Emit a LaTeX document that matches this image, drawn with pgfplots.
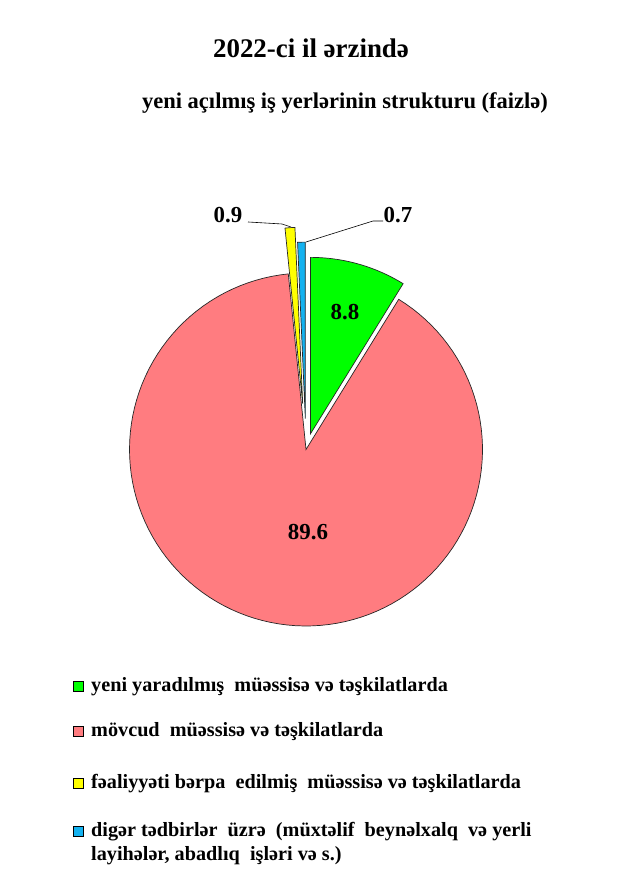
\documentclass[border=0pt]{standalone}
\usepackage{fontspec}
\setmainfont{Liberation Serif}
\usepackage{pgfplots}
\usepackage{pgfplotstable}
\pgfplotsset{compat=1.18}
\definecolor{pieGreen}{RGB}{0,255,0}
\definecolor{piePink}{RGB}{255,124,128}
\definecolor{pieYellow}{RGB}{255,255,0}
\definecolor{pieBlue}{RGB}{20,178,240}

\pgfplotstableread{
value explode
8.8   0.092
89.6  0
0.9   0.26
0.7   0.175
}\piedata

\begin{document}
\begin{tikzpicture}[x=1bp,y=1bp]
\useasboundingbox (0,0) rectangle (620,886);
\coordinate (pc) at (306,436.5);
% read values
\pgfplotstablegetelem{0}{value}\of\piedata\edef\vA{\pgfplotsretval}
\pgfplotstablegetelem{1}{value}\of\piedata\edef\vB{\pgfplotsretval}
\pgfplotstablegetelem{2}{value}\of\piedata\edef\vC{\pgfplotsretval}
\pgfplotstablegetelem{3}{value}\of\piedata\edef\vD{\pgfplotsretval}
\pgfplotstablegetelem{0}{explode}\of\piedata\edef\eA{\pgfplotsretval}
\pgfplotstablegetelem{1}{explode}\of\piedata\edef\eB{\pgfplotsretval}
\pgfplotstablegetelem{2}{explode}\of\piedata\edef\eC{\pgfplotsretval}
\pgfplotstablegetelem{3}{explode}\of\piedata\edef\eD{\pgfplotsretval}
\pgfmathsetmacro\aA{90}
\pgfmathsetmacro\aB{\aA-3.6*\vA}
\pgfmathsetmacro\aC{\aB-3.6*\vB}
\pgfmathsetmacro\aD{\aC-3.6*\vC}
\pgfmathsetmacro\aE{\aD-3.6*\vD}
\pgfmathsetmacro\dxA{\eA*cos((\aA+\aB)/2)}\pgfmathsetmacro\dyA{\eA*sin((\aA+\aB)/2)}
\pgfmathsetmacro\dxB{\eB*cos((\aB+\aC)/2)}\pgfmathsetmacro\dyB{\eB*sin((\aB+\aC)/2)}
\pgfmathsetmacro\dxC{\eC*cos((\aC+\aD)/2)}\pgfmathsetmacro\dyC{\eC*sin((\aC+\aD)/2)}
\pgfmathsetmacro\dxD{\eD*cos((\aD+\aE)/2)}\pgfmathsetmacro\dyD{\eD*sin((\aD+\aE)/2)}

\begin{axis}[
  at={(pc)}, anchor=center,
  width=529.5bp, height=529.5bp, scale only axis,
  xmin=-1.5, xmax=1.5, ymin=-1.5, ymax=1.5,
  hide axis, clip=false,
]
\addplot[draw=black!85, line width=0.7bp, fill=piePink, domain=\aC:\aB, samples=120, variable=\t]
  ({\dxB+cos(\t)},{\dyB+sin(\t)}) -- (axis cs:\dxB,\dyB) -- cycle;
\addplot[draw=black!85, line width=0.7bp, fill=pieGreen, domain=\aB:\aA, samples=30, variable=\t]
  ({\dxA+cos(\t)},{\dyA+sin(\t)}) -- (axis cs:\dxA,\dyA) -- cycle;
\addplot[draw=black!85, line width=0.7bp, fill=pieYellow, domain=\aD:\aC, samples=10, variable=\t]
  ({\dxC+cos(\t)},{\dyC+sin(\t)}) -- (axis cs:\dxC,\dyC) -- cycle;
\addplot[draw=black!85, line width=0.7bp, fill=pieBlue, domain=\aE:\aD, samples=10, variable=\t]
  ({\dxD+cos(\t)},{\dyD+sin(\t)}) -- (axis cs:\dxD,\dyD) -- cycle;
\node[font=\fontsize{23}{27}\selectfont\bfseries] at (axis cs:0.221,0.78) {8.8};
\node[font=\fontsize{23}{27}\selectfont\bfseries] at (axis cs:0.011,-0.47) {89.6};
\end{axis}

\begin{scope}[shift={(0,886)}, y=-1bp]
% leader lines
\draw[line width=0.6bp] (291,227) -- (282,224) -- (248,222);
\draw[line width=0.6bp] (306,242) -- (373,221) -- (383,221);
\node[font=\fontsize{23}{27}\selectfont\bfseries] at (228,215) {0.9};
\node[font=\fontsize{23}{27}\selectfont\bfseries] at (398,215) {0.7};

% title
\node[font=\fontsize{27}{31}\selectfont\bfseries] at (311,48) {2022-ci il ərzində};
\node[font=\fontsize{22.6}{27}\selectfont\bfseries] at (345,103) {yeni açılmış iş yerlərinin strukturu (faizlə)};

% legend
\begin{scope}[every node/.style={font=\fontsize{20.3}{24}\selectfont\bfseries, anchor=base west, inner sep=0pt}]
\draw[fill=pieGreen, line width=0.6bp] (73,681) rectangle (83,691);
\node at (91,692) {yeni yaradılmış\ \ müəssisə və təşkilatlarda};
\draw[fill=piePink, line width=0.6bp] (73,726) rectangle (83,736);
\node at (91,737) {mövcud\ \ müəssisə və təşkilatlarda};
\draw[fill=pieYellow, line width=0.6bp] (73,778) rectangle (83,788);
\node at (91,789) {fəaliyyəti bərpa\ \ edilmiş\ \ müəssisə və təşkilatlarda};
\draw[fill=pieBlue, line width=0.6bp] (73,826) rectangle (83,836);
\node at (91,837) {digər tədbirlər\ \ üzrə\ \ (müxtəlif\ \ beynəlxalq\ \ və yerli};
\node at (91,861) {layihələr, abadlıq\ \ işləri və s.)};
\end{scope}
\end{scope}
\end{tikzpicture}
\end{document}
